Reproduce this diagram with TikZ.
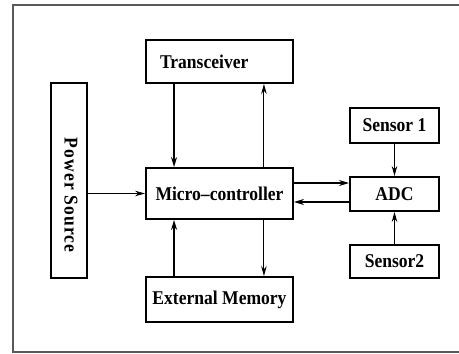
\documentclass[tikz,border=0pt]{standalone}
\usepackage{fontspec}
\setmainfont{Liberation Serif}[FakeStretch=0.9]
\usetikzlibrary{arrows.meta}
\begin{document}
\begin{tikzpicture}[x=1pt,y=-1pt,
  block/.style={draw, line width=1.9pt, rectangle, inner sep=0pt,
    font=\fontsize{19.5}{22}\selectfont\bfseries},
  label/.style={inner sep=0pt, font=\fontsize{19.5}{22}\selectfont\bfseries},
  thinarrow/.style={line width=1pt, -{Stealth[length=10pt,width=5.5pt]}},
  thickarrow/.style={line width=2.4pt, -{Stealth[length=10pt,width=6pt]}}]
  % page and outer frame
  \useasboundingbox[fill=white] (0,0) rectangle (459,354);
  \draw[line width=1.5pt, black!65] (459,5) -- (13,5) -- (13,352) -- (459,352);

  % blocks
  \node[block, minimum width=147pt, minimum height=43pt, text width=119pt,
        align=left, inner xsep=14pt] (trans) at (219.5,61.5) {Transceiver};
  \node[block, minimum width=147pt, minimum height=51pt] (mc) at (219.5,193.5)
        {Micro\textendash controller};
  \node[block, minimum width=147pt, minimum height=45pt] (mem) at (219.5,299.5)
        {External Memory};
  \node[block, minimum width=36pt, minimum height=195pt] (power) at (69,180.5) {};
  \node[label, rotate=-90] (powertext) at (71,195)
        {\addfontfeature{LetterSpace=6}Power Source};
  \node[block, minimum width=89pt, minimum height=35pt] (s1) at (394.5,125.5) {Sensor 1};
  \node[block, minimum width=89pt, minimum height=34pt] (adc) at (394.5,194) {ADC};
  \node[block, minimum width=89pt, minimum height=33pt] (s2) at (394.5,261.5) {Sensor2};

  % transceiver <-> micro-controller
  \draw[thickarrow] ([xshift=29pt]trans.south west) -- ([xshift=29pt]mc.north west);
  \draw[thinarrow] ([xshift=-30pt]mc.north east) -- ([xshift=-30pt]trans.south east);
  % external memory <-> micro-controller
  \draw[thickarrow] ([xshift=29pt]mem.north west) -- ([xshift=29pt]mc.south west);
  \draw[thinarrow] ([xshift=-30pt]mc.south east) -- ([xshift=-30pt]mem.north east);
  % power supply
  \draw[thinarrow] (power.east |- mc.west) -- (mc.west);
  % micro-controller <-> ADC
  \draw[thickarrow] ([yshift=10.5pt]mc.east) -- ([yshift=10.5pt]mc.east -| adc.west);
  \draw[thickarrow] ([yshift=-8.5pt]mc.east -| adc.west) -- ([yshift=-8.5pt]mc.east);
  % sensors into ADC
  \draw[thinarrow] (s1.south) -- (adc.north);
  \draw[thinarrow] (s2.north) -- (adc.south);
\end{tikzpicture}
\end{document}
